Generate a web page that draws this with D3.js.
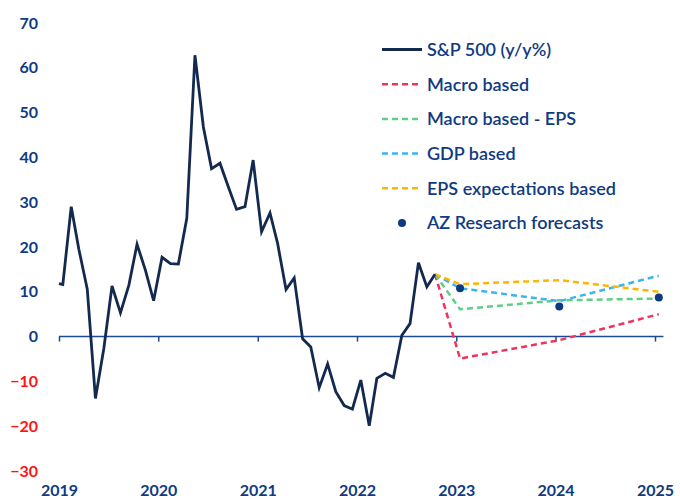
<!DOCTYPE html>
<html>
<head>
<meta charset="utf-8">
<script src="https://cdn.jsdelivr.net/npm/d3@7/dist/d3.min.js"></script>
<style>
  body { margin: 0; background: #fff; }
  text { font-family: Lato, "Open Sans", sans-serif; }
</style>
</head>
<body>
<div id="plot"></div>
<script>
// S&P 500 y/y %, monthly Jan 2019 .. Oct 2022 (plus lead-in point at start of axis)
const spLead = 11.8;
const spValues = [
  11.6, 29.0, 19.5, 10.6, -13.8, -2.6, 11.3, 5.3, 11.5, 20.6, 14.8, 8.0,
  17.7, 16.3, 16.2, 26.4, 62.8, 46.8, 37.5, 38.7, 33.4, 28.4, 29.0, 39.4,
  23.4, 27.6, 20.8, 10.5, 13.1, -0.5, -2.3, -11.4, -6.1, -12.3, -15.4, -16.2,
  -9.7, -19.9, -9.3, -8.2, -9.1, 0.3, 2.9, 16.5, 11.1, 13.9
];

// forecast paths, starting from the last actual point
const fcDates = ['2022-10-15', '2023-01-15', '2024-01-15', '2025-01-15'];
const macroBased = [13.9, -4.9, -0.8, 5.0];
const macroEps = [13.9, 6.1, 8.1, 8.5];
const gdpBased = [13.9, 10.8, 7.9, 13.6];
const epsExpect = [13.9, 11.7, 12.6, 10.0];

// AZ Research forecasts
const azDates = ['2023-01-15', '2024-01-15', '2025-01-15'];
const azValues = [10.8, 6.7, 8.7];

const yTicks = [-30, -20, -10, 0, 10, 20, 30, 40, 50, 60, 70];
const yearTicks = [2019, 2020, 2021, 2022, 2023, 2024, 2025];

const legendItems = [
  {label: 'S&P 500 (y/y%)', color: '#13294f', dash: null},
  {label: 'Macro based', color: '#f0335c', dash: '6,4'},
  {label: 'Macro based - EPS', color: '#5fce86', dash: '6,4'},
  {label: 'GDP based', color: '#39b6f0', dash: '6,4'},
  {label: 'EPS expectations based', color: '#ffb400', dash: '6,4'},
  {label: 'AZ Research forecasts', color: '#0b3a80', dot: true}
];

const width = 680, height = 501;
const parse = d3.timeParse('%Y-%m-%d');
const textColor = '#0f3b82';

const svg = d3.select('#plot').append('svg')
  .attr('width', width)
  .attr('height', height);

const x = d3.scaleTime()
  .domain([new Date(2019, 0, 1), new Date(2025, 0, 1)])
  .range([59, 655]);

const y = d3.scaleLinear()
  .domain([-30, 70])
  .range([471, 23]);

// y labels
const yAxis = svg.append('g')
  .attr('transform', 'translate(38,0)')
  .call(d3.axisLeft(y).tickValues(yTicks).tickSize(0).tickPadding(0).tickFormat(d3.format('d')));
yAxis.select('.domain').remove();
yAxis.selectAll('text')
  .attr('font-size', 16)
  .attr('font-weight', 700)
  .attr('fill', d => d < 0 ? '#ff1414' : textColor);

// zero line with year ticks
const zeroAxis = svg.append('g')
  .attr('transform', `translate(0,${y(0)})`)
  .call(d3.axisBottom(x)
    .tickValues(yearTicks.map(yr => new Date(yr, 0, 1)))
    .tickSize(5).tickSizeOuter(0).tickFormat(''));
zeroAxis.select('.domain').remove();
zeroAxis.selectAll('line').attr('stroke', '#1c4a94').attr('stroke-width', 1.5);
zeroAxis.append('line')
  .attr('x1', x(new Date(2019, 0, 1)))
  .attr('x2', x(new Date(2025, 1, 1)))
  .attr('stroke', '#1c4a94')
  .attr('stroke-width', 1.5);

// year labels at the bottom
const xAxis = svg.append('g')
  .attr('transform', 'translate(0,485)')
  .call(d3.axisBottom(x)
    .tickValues(yearTicks.map(yr => new Date(yr, 0, 1)))
    .tickSize(0).tickPadding(0).tickFormat(d3.timeFormat('%Y')));
xAxis.select('.domain').remove();
xAxis.selectAll('text')
  .attr('font-size', 16)
  .attr('font-weight', 700)
  .attr('fill', textColor);

const line = d3.line()
  .x(d => x(d[0]))
  .y(d => y(d[1]));

// forecast lines
const fcSeries = [macroBased, macroEps, gdpBased, epsExpect];
fcSeries.forEach((vals, i) => {
  const item = legendItems[i + 1];
  svg.append('path')
    .datum(vals.map((v, j) => [parse(fcDates[j]), v]))
    .attr('d', line)
    .attr('fill', 'none')
    .attr('stroke', item.color)
    .attr('stroke-width', 2.5)
    .attr('stroke-dasharray', item.dash);
});

// S&P 500 actual
const spData = [[new Date(2019, 0, 1), spLead]].concat(
  spValues.map((v, i) => [new Date(2019, i, 15), v])
);
svg.append('path')
  .datum(spData)
  .attr('d', line)
  .attr('fill', 'none')
  .attr('stroke', legendItems[0].color)
  .attr('stroke-width', 2.8)
  .attr('stroke-linejoin', 'miter');

// AZ dots
svg.selectAll('circle.az')
  .data(azValues)
  .enter()
  .append('circle')
  .attr('class', 'az')
  .attr('cx', (d, i) => x(parse(azDates[i])))
  .attr('cy', d => y(d))
  .attr('r', 4)
  .attr('fill', legendItems[5].color);

// legend
const legend = svg.append('g').attr('transform', 'translate(382,49.5)');
const rows = legend.selectAll('g')
  .data(legendItems)
  .enter()
  .append('g')
  .attr('transform', (d, i) => `translate(0,${i * 34.7})`);

rows.filter(d => !d.dot)
  .append('line')
  .attr('x1', 0)
  .attr('x2', 40)
  .attr('stroke', d => d.color)
  .attr('stroke-width', d => d.dash ? 2.5 : 2.8)
  .attr('stroke-dasharray', d => d.dash);

rows.filter(d => d.dot)
  .append('circle')
  .attr('cx', 20)
  .attr('r', 4)
  .attr('fill', d => d.color);

rows.append('text')
  .attr('x', 45)
  .attr('dy', '0.35em')
  .attr('font-size', 18)
  .attr('font-weight', 600)
  .attr('fill', textColor)
  .text(d => d.label);
</script>
</body>
</html>
